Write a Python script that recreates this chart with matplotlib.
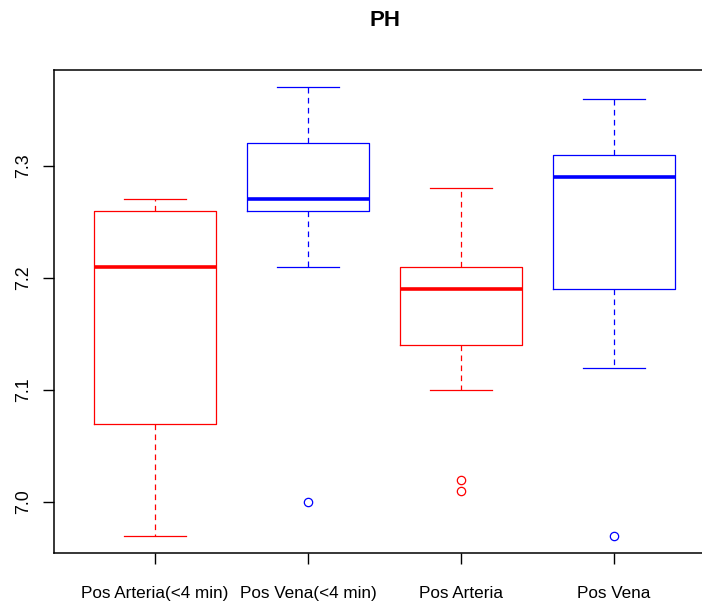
import matplotlib
matplotlib.use("Agg")
import matplotlib.pyplot as plt

plt.rcParams['font.family'] = ['Liberation Sans', 'DejaVu Sans']

grupos = ["Pos Arteria(<4 min)", "Pos Vena(<4 min)", "Pos Arteria", "Pos Vena"]
colores = ["#FF0000", "#0000FF", "#FF0000", "#0000FF"]

# resumen de cada caja: bigote inf, Q1, mediana, Q3, bigote sup
bigote_inf = [6.97, 7.21, 7.10, 7.12]
q1 = [7.07, 7.26, 7.14, 7.19]
mediana = [7.21, 7.27, 7.19, 7.29]
q3 = [7.26, 7.32, 7.21, 7.31]
bigote_sup = [7.27, 7.37, 7.28, 7.36]
atipicos = [[], [7.00], [7.02, 7.01], [6.97]]

fig = plt.figure(figsize=(7.02, 6.03), dpi=100)
# el marco derecho queda fuera del lienzo
ax = fig.add_axes([54 / 702, 50 / 603, 661 / 702, 483 / 603])

for i in range(len(grupos)):
    stats = [{
        "whislo": bigote_inf[i], "q1": q1[i], "med": mediana[i],
        "q3": q3[i], "whishi": bigote_sup[i], "fliers": atipicos[i],
    }]
    c = colores[i]
    ax.bxp(stats, positions=[i + 1], widths=0.8, showfliers=True,
           boxprops=dict(color=c, linewidth=0.9),
           medianprops=dict(color=c, linewidth=2.6, solid_capstyle="butt"),
           whiskerprops=dict(color=c, linewidth=0.9, linestyle=(0, (4.5, 3.5))),
           capprops=dict(color=c, linewidth=0.9),
           capwidths=0.4,
           flierprops=dict(marker="o", markerfacecolor="none",
                           markeredgecolor=c, markersize=6, markeredgewidth=0.9))

ax.set_xlim(0.34, 4.66)
ax.set_ylim(6.9544, 7.3856)
ax.set_xticks([1, 2, 3, 4])
ax.set_xticklabels(grupos, fontsize=12.3)
ax.set_yticks([7.0, 7.1, 7.2, 7.3])
ax.set_yticklabels(["7.0", "7.1", "7.2", "7.3"], rotation=90, va="center", fontsize=12.8)
ax.tick_params(axis="x", length=8, width=1, pad=16)
ax.tick_params(axis="y", length=8, width=1, pad=8)
for s in ax.spines.values():
    s.set_linewidth(1.1)

fig.text(385 / 702, 1 - 20 / 603, "PH", ha="center", va="center",
         fontsize=16, fontweight="bold")

fig.savefig("out.png", dpi=100)
